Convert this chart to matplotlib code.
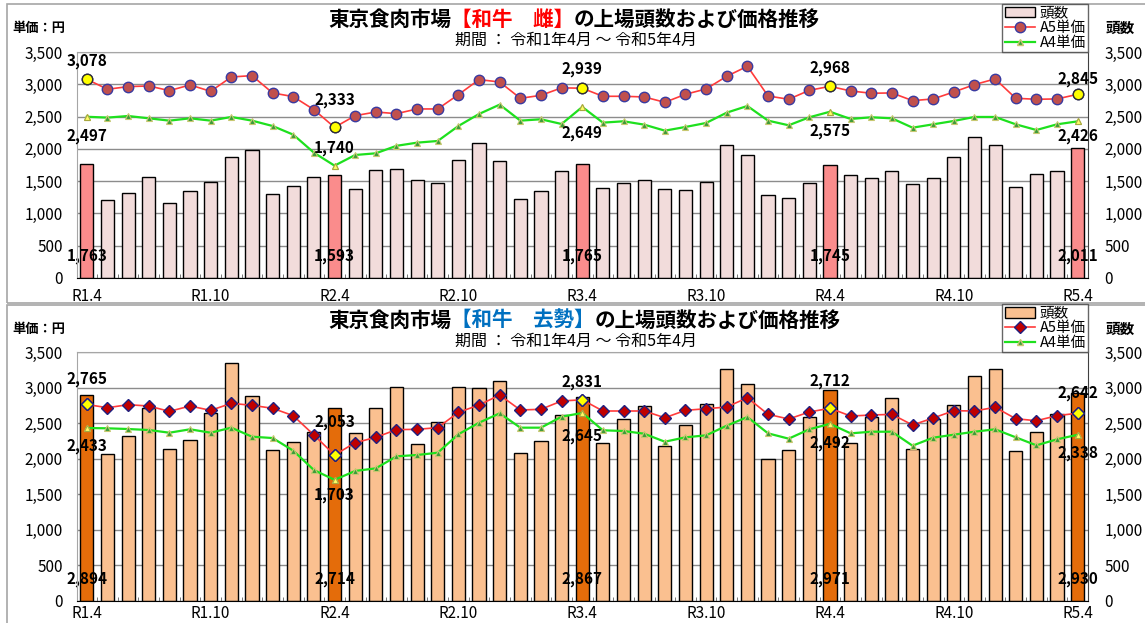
import matplotlib.pyplot as plt
import numpy as np
from matplotlib.lines import Line2D
from matplotlib.offsetbox import AnchoredOffsetbox, HPacker, TextArea
from matplotlib.patches import Patch, Rectangle
from matplotlib.ticker import FixedLocator, FuncFormatter

plt.rcParams["font.family"] = ["Noto Sans CJK JP", "DejaVu Sans"]

# --- data ------------------------------------------------------------------
TICK_LABELS = ["R1.4", "R1.10", "R2.4", "R2.10", "R3.4", "R3.10", "R4.4", "R4.10", "R5.4"]
HIGHLIGHT = [0, 12, 24, 36, 48]  # April of each year

# 和牛 雌
COW_HEADS = [
    1763, 1205, 1312, 1569, 1162, 1353, 1487, 1879, 1978, 1296,
    1430, 1569, 1593, 1379, 1678, 1693, 1513, 1477, 1828, 2096,
    1817, 1219, 1353, 1657, 1765, 1389, 1477, 1513, 1374, 1363,
    1487, 2055, 1900, 1286, 1234, 1466, 1745, 1595, 1554, 1662,
    1456, 1544, 1869, 2190, 2065, 1405, 1611, 1657, 2011,
]
COW_A5 = [
    3078, 2923, 2964, 2974, 2902, 2990, 2891, 3113, 3134, 2866,
    2809, 2607, 2333, 2514, 2571, 2545, 2618, 2618, 2840, 3072,
    3036, 2783, 2829, 2945, 2939, 2814, 2814, 2804, 2721, 2845,
    2928, 3124, 3279, 2819, 2768, 2907, 2968, 2897, 2861, 2866,
    2747, 2773, 2881, 2995, 3083, 2783, 2768, 2773, 2845,
]
COW_A4 = [
    2497, 2484, 2509, 2473, 2437, 2473, 2437, 2494, 2437, 2354,
    2220, 1941, 1740, 1905, 1931, 2047, 2096, 2122, 2354, 2540,
    2685, 2437, 2458, 2385, 2649, 2406, 2427, 2375, 2282, 2339,
    2401, 2561, 2664, 2437, 2365, 2489, 2575, 2463, 2489, 2473,
    2328, 2380, 2432, 2494, 2494, 2380, 2292, 2380, 2426,
]

# 和牛 去勢
STEER_HEADS = [
    2894, 2071, 2316, 2715, 2133, 2260, 2640, 3349, 2884, 2119,
    2240, 2373, 2714, 2358, 2715, 3007, 2203, 2522, 3007, 3001,
    3091, 2077, 2254, 2612, 2867, 2226, 2556, 2748, 2184, 2476,
    2771, 3260, 3049, 1997, 2128, 2593, 2971, 2218, 2584, 2856,
    2133, 2556, 2757, 3170, 3265, 2114, 2381, 2631, 2930,
]
STEER_A5 = [
    2765, 2719, 2762, 2743, 2668, 2743, 2682, 2781, 2753, 2711,
    2607, 2335, 2053, 2226, 2302, 2410, 2415, 2438, 2654, 2757,
    2898, 2687, 2697, 2814, 2831, 2673, 2673, 2673, 2578, 2682,
    2705, 2729, 2860, 2626, 2560, 2659, 2712, 2602, 2616, 2626,
    2476, 2574, 2677, 2673, 2725, 2564, 2536, 2607, 2642,
]
STEER_A4 = [
    2433, 2429, 2419, 2405, 2367, 2415, 2367, 2438, 2311, 2292,
    2114, 1841, 1703, 1828, 1865, 2034, 2053, 2085, 2345, 2508,
    2640, 2438, 2438, 2593, 2645, 2401, 2391, 2353, 2240, 2302,
    2330, 2466, 2588, 2358, 2283, 2415, 2492, 2358, 2381, 2381,
    2184, 2297, 2339, 2381, 2415, 2302, 2189, 2274, 2338,
]

# vertical offsets (pixels) of the value labels at the highlighted months
COW_A5_OFF = [18, 27, 19, 18, 15]
COW_A4_OFF = [-19, 18, -26, -19, -15]
STEER_A5_OFF = [25, 33, 18, 27, 20]
STEER_A4_OFF = [-18, -15, -23, -19, -18]

W, H = 1145, 623


def fx(px):
    return px / W


def fy(py):
    return 1 - py / H


fig = plt.figure(figsize=(W / 100, H / 100), dpi=100)


def panel(top, bottom, frame, heads, a5, a4, a5_off, a4_off, style):
    n = len(heads)
    x = np.arange(n)
    rect = [fx(76.5), fy(bottom), fx(1088) - fx(76.5), fy(top) - fy(bottom)]
    ax = fig.add_axes(rect)
    axh = ax.twinx()
    ax.set_zorder(axh.get_zorder() + 1)
    ax.patch.set_visible(False)

    # chart frame
    fig.add_artist(Rectangle((fx(7), fy(frame[1])), fx(1160) - fx(7), fy(frame[0]) - fy(frame[1]),
                             transform=fig.transFigure, fill=False, edgecolor="#A6A6A6", lw=1.2))

    colors = [style["bar_hi"] if i in HIGHLIGHT else style["bar"] for i in range(n)]
    axh.bar(x, heads, width=0.64, color=colors, edgecolor="black", linewidth=1.0, zorder=2)
    axh.set_axisbelow(True)
    axh.yaxis.grid(True, color="#8C8C8C", linewidth=1.0)

    ax.plot(x, a4, color="#1EE01E", lw=1.6, marker="^", ms=5, mfc="#3A9A3A", mec="#C8C870", mew=0.8)
    ax.plot(x, a5, color="#FF3B3B", lw=1.2, marker=style["mk"], ms=style["ms"],
            mfc=style["mfc"], mec=style["mec"], mew=1.0)
    hx = HIGHLIGHT
    ax.plot(hx, [a4[i] for i in hx], ls="none", marker="^", ms=5, mfc="#FFFF66", mec="#A8A840", mew=0.8)
    ax.plot(hx, [a5[i] for i in hx], ls="none", marker=style["mk"], ms=style["ms"],
            mfc="#FFFF00", mec=style["hi_mec"], mew=1.0)

    lab = dict(ha="center", va="center", fontsize=11, fontweight="bold", textcoords="offset pixels")
    for k, i in enumerate(hx):
        ax.annotate(f"{a5[i]:,}", (i, a5[i]), xytext=(0, a5_off[k]), **lab)
        ax.annotate(f"{a4[i]:,}", (i, a4[i]), xytext=(0, a4_off[k]), **lab)
        axh.annotate(f"{heads[i]:,}", (i, 0), xytext=(0, 22), **lab)

    ticks = list(range(0, 3501, 500))
    fmt = FuncFormatter(lambda v, _: f"{v:,.0f}")
    for a in (ax, axh):
        a.set_ylim(0, 3500)
        a.set_yticks(ticks)
        a.yaxis.set_major_formatter(fmt)
        a.set_xlim(-0.5, n - 0.5)
    ax.tick_params(axis="y", length=0, pad=10, labelsize=11)
    axh.tick_params(axis="y", length=0, pad=12, labelsize=11)
    ax.set_xticks(range(0, n, 6))
    ax.set_xticklabels(TICK_LABELS)
    ax.xaxis.set_minor_locator(FixedLocator(np.arange(-0.5, n, 1)))
    ax.tick_params(axis="x", which="major", length=0, pad=style["xpad"], labelsize=11)
    ax.tick_params(axis="x", which="minor", length=3, direction="in", color="#606060")
    axh.tick_params(axis="x", which="both", length=0, labelbottom=False)

    for s in axh.spines.values():
        s.set_visible(False)
    ax.spines["left"].set_color("#A6A6A6")
    ax.spines["top"].set_color("#A6A6A6")
    ax.spines["bottom"].set_color("black")
    ax.spines["right"].set_color("#404040")

    handles = [
        Patch(facecolor=style["bar"], edgecolor="black"),
        Line2D([], [], color="#FF3B3B", lw=1.2, marker=style["mk"], ms=style["ms"],
               mfc=style["mfc"], mec=style["mec"]),
        Line2D([], [], color="#1EE01E", lw=1.6, marker="^", ms=5, mfc="#3A9A3A", mec="#C8C870"),
    ]
    leg = ax.legend(handles, ["頭数", "A5単価", "A4単価"], loc="lower right", bbox_to_anchor=(1, 1),
                    borderaxespad=0, fancybox=False, edgecolor="#404040", fontsize=10.5,
                    labelspacing=0.05, handlelength=2.1, handletextpad=0.3, borderpad=0.15)
    leg.get_frame().set_linewidth(1.0)

    # titles
    pieces = [("東京食肉市場", "black"), (style["title_mid"], style["title_color"]),
              ("の上場頭数および価格推移", "black")]
    boxes = [TextArea(t, textprops=dict(color=c, fontsize=14.8, fontweight="bold")) for t, c in pieces]
    title = AnchoredOffsetbox(loc="center left", child=HPacker(children=boxes, pad=0, sep=0),
                              bbox_to_anchor=(fx(328), fy(frame[0] + 15)), bbox_transform=fig.transFigure,
                              frameon=False, pad=0, borderpad=0)
    fig.add_artist(title)
    fig.text(fx(576), fy(frame[0] + 36), "期間 ： 令和1年4月 ～ 令和5年4月", ha="center", va="center",
             fontsize=11.5)
    fig.text(fx(12), fy(frame[0] + 24), "単価：円", ha="left", va="center", fontsize=9.5, fontweight="bold")
    fig.text(fx(1106), fy(frame[0] + 24), "頭数", ha="left", va="center", fontsize=10.5, fontweight="bold")


panel(52, 278, (4, 303), COW_HEADS, COW_A5, COW_A4, COW_A5_OFF, COW_A4_OFF,
      dict(bar="#F2DCDB", bar_hi="#FA8C8C", mk="o", ms=7.5, mfc="#C0504D", mec="#3A3AA0",
           hi_mec="#303030", title_mid="【和牛　雌】", title_color="#FF0000", xpad=7))
panel(352.3, 600.7, (305, 640), STEER_HEADS, STEER_A5, STEER_A4, STEER_A5_OFF, STEER_A4_OFF,
      dict(bar="#FAC090", bar_hi="#E46C0A", mk="D", ms=6.5, mfc="#C00000", mec="#1F1F80",
           hi_mec="#1F1F80", title_mid="【和牛　去勢】", title_color="#0070C0", xpad=3))

fig.savefig("out.png", dpi=100)
